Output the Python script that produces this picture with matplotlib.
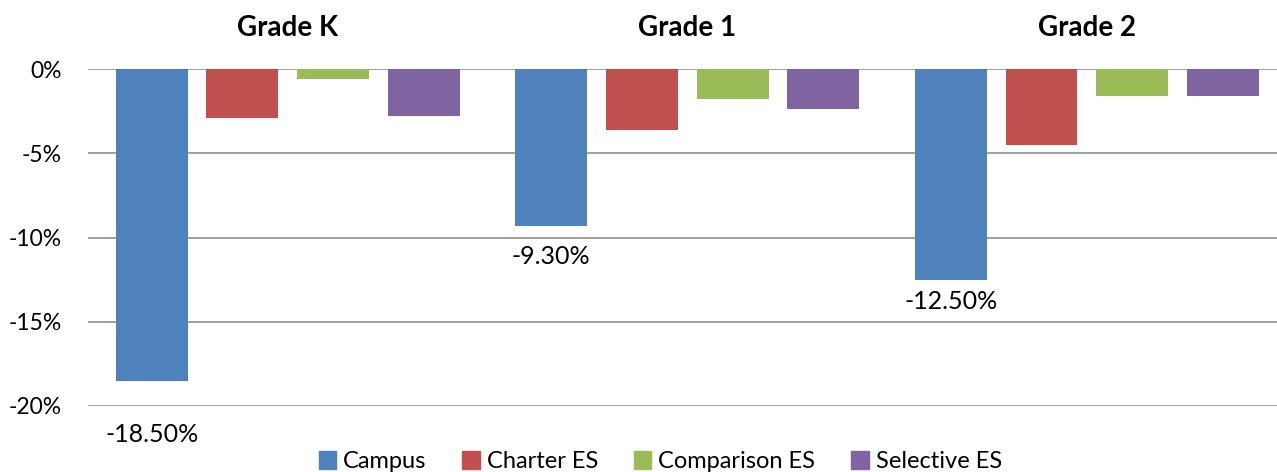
import numpy as np
import matplotlib.pyplot as plt
from matplotlib.patches import Patch

plt.rcParams['font.family'] = ['Lato', 'DejaVu Sans']

# ---- data ----
grades = ['Grade K', 'Grade 1', 'Grade 2']
series = ['Campus', 'Charter ES', 'Comparison ES', 'Selective ES']
campus     = [-18.5, -9.3, -12.5]
charter    = [-2.9, -3.6, -4.5]
comparison = [-0.6, -1.8, -1.6]
selective  = [-2.8, -2.4, -1.6]
campus_labels = ['-18.50%', '-9.30%', '-12.50%']

yticks = [0, -5, -10, -15, -20]
ytick_labels = ['0%', '-5%', '-10%', '-15%', '-20%']

colors = ['#4F81BD', '#C0504D', '#9BBB59', '#8064A2']
label_drop = [39, 22, 16]   # label offsets below bar end, points

# ---- figure ----
fig = plt.figure(figsize=(12.77, 4.72), dpi=100)
ax = fig.add_axes([88 / 1277, 1 - 406 / 472, 1 - 88 / 1277, (406 - 69) / 472])

x = np.arange(len(grades))
width = 0.18
step = 0.227
all_vals = [campus, charter, comparison, selective]
for i, (vals, col, name) in enumerate(zip(all_vals, colors, series)):
    ax.bar(x + (i - 1.5) * step, vals, width, color=col, label=name, zorder=3)

for xi, v, lab, d in zip(x, campus, campus_labels, label_drop):
    ax.annotate(lab, (xi - 1.5 * step, v), xytext=(0, -d), textcoords='offset points',
                ha='center', va='center', fontsize=18, color='black')

for xi, g in zip(x, grades):
    ax.text(xi, 1.122, g, transform=ax.get_xaxis_transform(), ha='center', va='center',
            fontsize=20, fontweight='bold')

ax.set_xlim(-0.5, 2.476)
ax.set_ylim(-20, 0)
ax.set_yticks(yticks)
ax.set_yticklabels(ytick_labels, fontsize=16.5)
ax.tick_params(axis='y', length=0, pad=19)
ax.set_xticks([])
ax.grid(axis='y', color='#868686', linewidth=1.1, zorder=0)
ax.set_axisbelow(True)
for s in ax.spines.values():
    s.set_visible(False)

handles = [Patch(color=c, label=n) for c, n in zip(colors, series)]
fig.legend(handles=handles, loc='center', bbox_to_anchor=(0.517, 0.022), ncol=4,
           frameon=False, fontsize=17, handlelength=0.75, handleheight=0.75,
           handletextpad=0.3, columnspacing=1.5, borderpad=0)

fig.savefig('out.png', dpi=100)
